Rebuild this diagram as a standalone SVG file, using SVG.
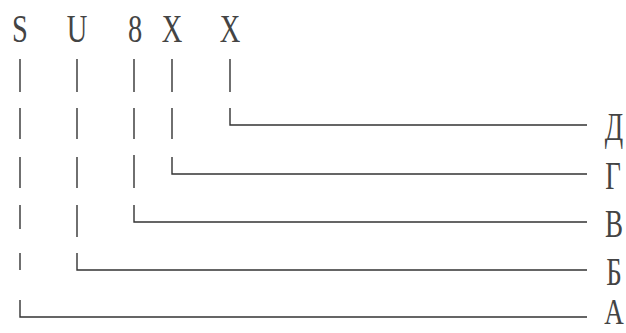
<svg xmlns="http://www.w3.org/2000/svg" width="626" height="333" viewBox="0 0 626 333">
<style>
.t{font-family:"Liberation Serif","Times New Roman",serif;font-size:30px;fill:#444;text-anchor:middle;font-weight:normal}
.c line,.c path{stroke:#333;stroke-width:1.4;fill:none}
</style>
<rect width="626" height="333" fill="#fff"/>
<g id="top-labels">
<g id="n-S" transform="translate(20 42) scale(0.95 1.35)"><text class="t">S</text></g>
<g id="n-U" transform="translate(77 42) scale(0.95 1.35)"><text class="t">U</text></g>
<g id="n-8" transform="translate(135 42) scale(0.95 1.35)"><text class="t">8</text></g>
<g id="n-X1" transform="translate(172 42) scale(0.95 1.35)"><text class="t">X</text></g>
<g id="n-X2" transform="translate(230 42) scale(0.95 1.35)"><text class="t">X</text></g>
</g>
<g id="right-labels">
<g id="n-D" transform="translate(614 140) scale(0.9 1.3)"><text class="t">Д</text></g>
<g id="n-G" transform="translate(613 189) scale(0.9 1.3)"><text class="t">Г</text></g>
<g id="n-V" transform="translate(614 237) scale(0.9 1.3)"><text class="t">В</text></g>
<g id="n-B" transform="translate(614 285) scale(0.9 1.3)"><text class="t">Б</text></g>
<g id="n-A" transform="translate(614 324) scale(0.9 1.2)"><text class="t">А</text></g>
</g>
<g class="c" id="connectors">
<line x1="20" y1="59" x2="20" y2="92"/><line x1="20" y1="108" x2="20" y2="139"/><line x1="20" y1="157" x2="20" y2="188"/><line x1="20" y1="205" x2="20" y2="229"/><line x1="20" y1="253" x2="20" y2="270"/>
<path d="M20 300 V317 H587"/>
<line x1="77" y1="59" x2="77" y2="92"/><line x1="77" y1="108" x2="77" y2="139"/><line x1="77" y1="157" x2="77" y2="188"/><line x1="77" y1="205" x2="77" y2="237"/>
<path d="M77 253 V270 H587"/>
<line x1="134" y1="59" x2="134" y2="92"/><line x1="134" y1="108" x2="134" y2="139"/><line x1="134" y1="155" x2="134" y2="188"/>
<path d="M134 205 V222 H587"/>
<line x1="172" y1="59" x2="172" y2="92"/><line x1="172" y1="108" x2="172" y2="139"/>
<path d="M172 157 V174 H587"/>
<line x1="230" y1="59" x2="230" y2="92"/>
<path d="M230 108 V125 H587"/>
</g>
</svg>
